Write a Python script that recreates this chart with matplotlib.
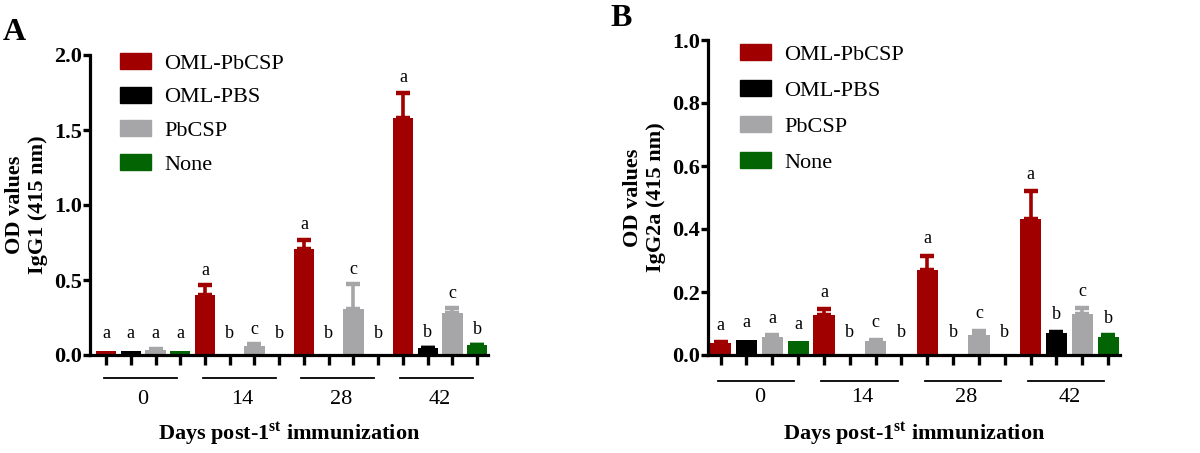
import numpy as np
import matplotlib
matplotlib.use("Agg")
import matplotlib.pyplot as plt
from matplotlib.patches import Patch

plt.rcParams.update({"font.family": "Liberation Serif", "mathtext.fontset": "custom",
                     "mathtext.rm": "Liberation Serif", "mathtext.bf": "Liberation Serif:bold"})

series = ["OML-PbCSP", "OML-PBS", "PbCSP", "None"]
colors = ["#a00000", "#000000", "#a6a6a9", "#036403"]
days = ["0", "14", "28", "42"]
letters = [["a", "a", "a", "a"], ["a", "b", "b", "b"], ["a", "c", "c", "c"], ["a", "b", "b", "b"]]

# panel A: IgG1, rows = series, columns = day
igg1 = [[0.03, 0.40, 0.71, 1.58],
        [0.025, 0.0, 0.0, 0.045],
        [0.035, 0.06, 0.31, 0.28],
        [0.03, 0.0, 0.0, 0.065]]
igg1_err = [[0.0, 0.064, 0.06, 0.17],
            [0.0, 0.0, 0.0, 0.005],
            [0.004, 0.012, 0.164, 0.036],
            [0.0, 0.0, 0.0, 0.005]]
# panel B: IgG2a
igg2a = [[0.037, 0.127, 0.27, 0.432],
         [0.048, 0.0, 0.0, 0.071],
         [0.058, 0.044, 0.063, 0.13],
         [0.044, 0.0, 0.0, 0.056]]
igg2a_err = [[0.003, 0.018, 0.045, 0.088],
             [0.0, 0.0, 0.0, 0.002],
             [0.004, 0.004, 0.013, 0.018],
             [0.0, 0.0, 0.0, 0.006]]

fig = plt.figure(figsize=(12, 4.53), dpi=100)
W, H = 1200, 453


def panel(rect, vals, errs, ymax, ystep, ylab, letter, letter_xy, lab_off, lab_floor,
          leg_xy, leg_sp, xlim, line_y, day_y):
    ax = fig.add_axes(rect)
    vals = np.array(vals); errs = np.array(errs)
    for s in range(4):
        x = np.arange(4) * 4 + s
        ax.bar(x, vals[s], width=0.82, color=colors[s], lw=0, zorder=2)
        m = errs[s] > 0
        ax.errorbar(x[m], vals[s][m], yerr=[np.zeros(m.sum()), errs[s][m]], fmt="none",
                    ecolor=colors[s], elinewidth=2.6, capsize=5, capthick=3.2, zorder=2)
        for i in range(4):
            y = max(vals[s][i] + errs[s][i], lab_floor) + lab_off
            ax.text(x[i], y, letters[s][i], ha="center", va="baseline", fontsize=13)
    ax.set_xlim(xlim)
    ax.set_ylim(0, ymax)
    yt = np.arange(0, ymax + 1e-9, ystep)
    ax.set_yticks(yt)
    ax.set_yticklabels([f"{v:.1f}" for v in yt], fontweight="bold", fontsize=16)
    ax.set_xticks(np.arange(16))
    ax.set_xticklabels([])
    ax.tick_params(axis="x", direction="out", length=7.5, width=2.4)
    ax.tick_params(axis="y", direction="out", length=5, width=2.4, pad=1)
    for sp in ["top", "right"]:
        ax.spines[sp].set_visible(False)
    for sp in ["left", "bottom"]:
        ax.spines[sp].set_linewidth(2.3)
    # group underlines and day labels
    tr = ax.get_xaxis_transform()
    bottom_px = (1 - rect[1]) * H
    ax_h = rect[3] * H
    for g, d in enumerate(days):
        ax.plot([g * 4 - 0.1, g * 4 + 2.85], [-(line_y - bottom_px) / ax_h] * 2, transform=tr,
                color="black", lw=1.3, clip_on=False)
        ax.text(g * 4 + 1.5, -(day_y - bottom_px) / ax_h, d, transform=tr, ha="center",
                va="center", fontsize=16)
    ax.set_xlabel(r"Days post-1$^{\mathbf{st}}$ immunization", fontweight="bold", fontsize=16,
                  labelpad=36)
    ax.set_ylabel(ylab, fontweight="bold", fontsize=16, labelpad=4, linespacing=1.2)
    fig.text(letter_xy[0] / W, 1 - letter_xy[1] / H, letter, fontsize=23, fontweight="bold",
             ha="left", va="center")
    handles = [Patch(facecolor=c, edgecolor=c) for c in colors]
    ax.legend(handles, series, loc="upper left", bbox_to_anchor=(leg_xy[0] / W, 1 - leg_xy[1] / H),
              bbox_transform=fig.transFigure, frameon=False, fontsize=16, borderpad=0,
              handlelength=1.4, handleheight=0.75, handletextpad=0.6, labelspacing=leg_sp,
              borderaxespad=0)
    return ax


panel([90 / W, 1 - 355 / H, 398 / W, 300 / H], igg1, igg1_err, 2.0, 0.5,
      "OD values\nIgG1 (415 nm)", "A", (3, 33), 0.067, 0.043, (120, 53), 0.57,
      (-0.65, 15.44), 378, 400)
panel([708 / W, 1 - 355 / H, 412 / W, 315 / H], igg2a, igg2a_err, 1.0, 0.2,
      "OD values\nIgG2a (415 nm)", "B", (610, 18), 0.04, 0.016, (740, 44), 0.68,
      (-0.49, 15.46), 381, 397)

fig.savefig("out.png", dpi=100)
